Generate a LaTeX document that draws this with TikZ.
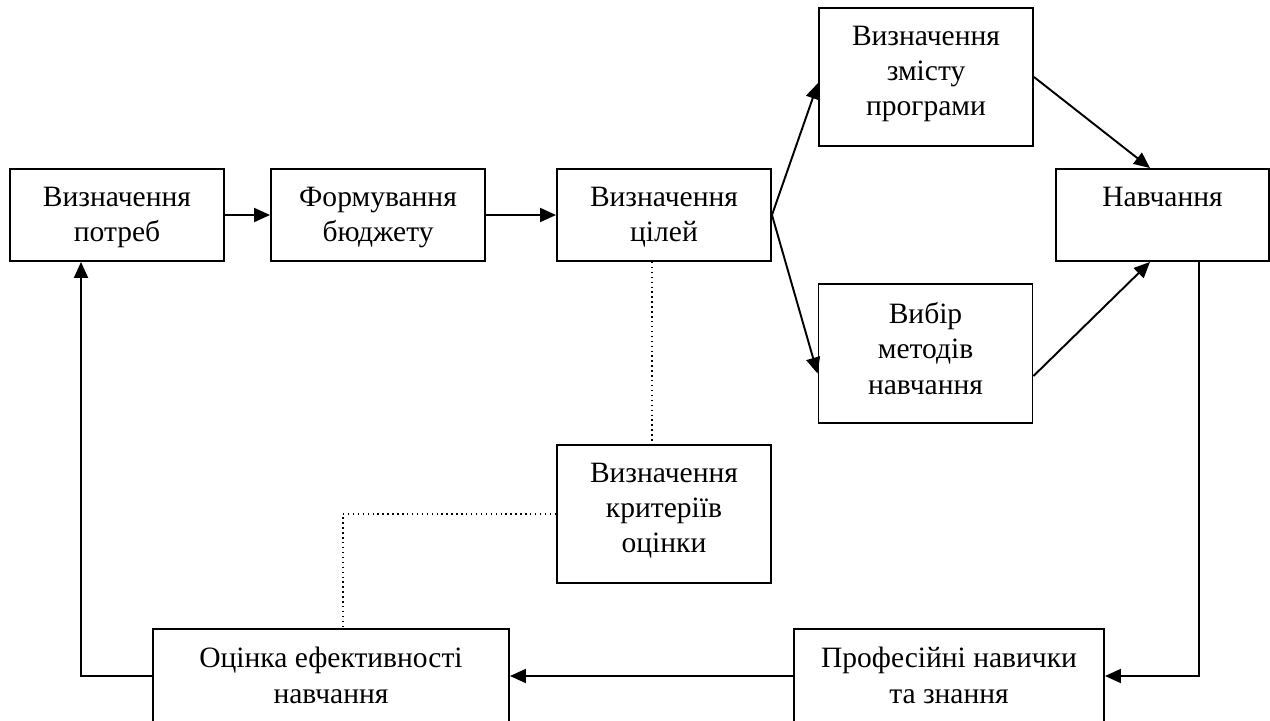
\documentclass[tikz,border=0pt]{standalone}
\usepackage{fontspec}
\setmainfont{Liberation Serif}
\usetikzlibrary{positioning,arrows.meta,calc}
\tikzset{
  >={Triangle[length=0.32cm,width=0.28cm]},
  every node/.style={font=\fontsize{16.8}{20}\selectfont},
  % --- nodes
  blk/.style  = {draw=black, line width=1.1pt, minimum width=4.28cm, minimum height=1.84cm,
                 inner sep=0pt},
  tall/.style = {blk, minimum height=2.77cm},
  txt/.style  = {align=center, inner sep=0pt},
  % --- edges
  e/.style    = {->, line width=1.1pt, draw=black},
  dots/.style = {dotted, line width=0.8pt},
}

\begin{document}
\begin{tikzpicture}
  \useasboundingbox (0,0) rectangle (25.4,-14.4);
  \clip (0,0) rectangle (25.4,-14.4);
  % top row
  \node[blk] (potreb) at (2.34,-4.30) {};
  \node[blk] (budget) at (7.56,-4.30) {};
  \node[blk] (cilei)  at (13.28,-4.30) {};
  \node[blk, minimum width=4.26cm] (navch) at (23.25,-4.30) {};
  \node[tall] (zmist)  at (18.52,-1.54) {};
  \node[tall] (vybir)  at (18.51,-7.07) {};
  \node[tall] (kryter) at (13.28,-10.28) {};
  % bottom row (cut by the page edge)
  \node[blk, minimum width=7.12cm, minimum height=1.88cm] (ocinka) at (6.62,-13.52) {};
  \node[blk, minimum width=6.2cm, minimum height=1.88cm]  (prof)   at (18.98,-13.52) {};

  \node[txt, below=0.38cm of potreb.north] (potreb-t) {Визначення\\потреб};
  \node[txt, below=0.38cm of budget.north] (budget-t) {Формування\\бюджету};
  \node[txt, below=0.38cm of cilei.north]  (cilei-t)  {Визначення\\цілей};
  \node[txt, below=0.38cm of navch.north]  (navch-t)  {Навчання};
  \node[txt, below=0.38cm of zmist.north]  (zmist-t)  {Визначення\\змісту\\програми};
  \node[txt, below=0.38cm of vybir.north]  (vybir-t)  {Вибір\\методів\\навчання};
  \node[txt, below=0.38cm of kryter.north] (kryter-t) {Визначення\\критеріїв\\оцінки};
  \node[txt, below=0.38cm of ocinka.north] (ocinka-t) {Оцінка ефективності\\навчання};
  \node[txt, below=0.38cm of prof.north]   (prof-t)   {Професійні навички\\та знання};

  \draw[e] (potreb) -- (budget);
  \draw[e] (budget) -- (cilei);
  \draw[e] (cilei.east) -- ([yshift=-0.12cm]zmist.west);
  \draw[e] (cilei.east) -- ([yshift=-0.4cm]vybir.west);
  \draw[e] (zmist.east) -- ([xshift=-0.25cm]navch.north);
  \draw[e] ([yshift=-0.45cm]vybir.east) -- ([xshift=-0.25cm]navch.south);
  \draw[e] ([xshift=0.73cm]navch.south) |- (prof.east);
  \draw[e] (prof) -- (ocinka);
  \draw[e] (ocinka.west) -| ([xshift=-0.72cm]potreb.south);
  \draw[dots] ([xshift=-0.24cm]cilei.south) -- ([xshift=-0.24cm]kryter.north);
  \draw[dots] (kryter.west) -| ([xshift=0.24cm]ocinka.north);
\end{tikzpicture}
\end{document}
